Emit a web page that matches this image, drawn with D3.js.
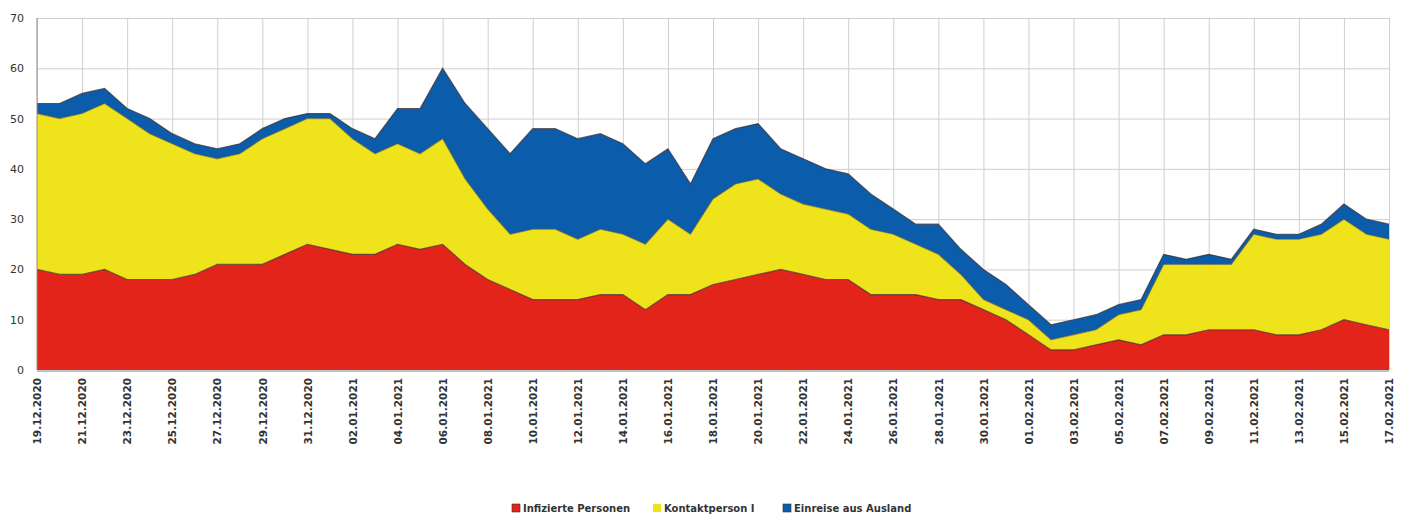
<!DOCTYPE html>
<html>
<head>
<meta charset="utf-8">
<script src="https://cdn.jsdelivr.net/npm/d3@7"></script>
<style>
  body { margin: 0; background: #fff; }
  svg { font-family: "DejaVu Sans", Verdana, sans-serif; }
</style>
</head>
<body>
<div id="chart"></div>
<script>
// dates 19.12.2020 .. 17.02.2021
var dates = [
  '19.12.2020','20.12.2020','21.12.2020','22.12.2020','23.12.2020','24.12.2020','25.12.2020',
  '26.12.2020','27.12.2020','28.12.2020','29.12.2020','30.12.2020','31.12.2020',
  '01.01.2021','02.01.2021','03.01.2021','04.01.2021','05.01.2021','06.01.2021','07.01.2021',
  '08.01.2021','09.01.2021','10.01.2021','11.01.2021','12.01.2021','13.01.2021','14.01.2021',
  '15.01.2021','16.01.2021','17.01.2021','18.01.2021','19.01.2021','20.01.2021','21.01.2021',
  '22.01.2021','23.01.2021','24.01.2021','25.01.2021','26.01.2021','27.01.2021','28.01.2021',
  '29.01.2021','30.01.2021','31.01.2021',
  '01.02.2021','02.02.2021','03.02.2021','04.02.2021','05.02.2021','06.02.2021','07.02.2021',
  '08.02.2021','09.02.2021','10.02.2021','11.02.2021','12.02.2021','13.02.2021','14.02.2021',
  '15.02.2021','16.02.2021','17.02.2021'
];

var infizierte = [20,19,19,20,18,18,18,19,21,21,21,23,25,24,23,23,25,24,25,21,
  18,16,14,14,14,15,15,12,15,15,17,18,19,20,19,18,18,15,15,15,
  14,14,12,10,7,4,4,5,6,5,7,7,8,8,8,7,7,8,10,9,8];

var kontakt = [31,31,32,33,32,29,27,24,21,22,25,25,25,26,23,20,20,19,21,17,
  14,11,14,14,12,13,12,13,15,12,17,19,19,15,14,14,13,13,12,10,
  9,5,2,2,3,2,3,3,5,7,14,14,13,13,19,19,19,19,20,18,18];

var einreise = [2,3,4,3,2,3,2,2,2,2,2,2,1,1,2,3,7,9,14,15,
  16,16,20,20,20,19,18,16,14,10,12,11,11,9,9,8,8,7,5,4,
  6,5,6,5,3,3,3,3,2,2,2,1,2,1,1,1,1,2,3,3,3];

var yTicks = [0,10,20,30,40,50,60,70];

var keys = ['infizierte', 'kontakt', 'einreise'];
var labels = {
  'infizierte': 'Infizierte Personen',
  'kontakt': 'Kontaktperson I',
  'einreise': 'Einreise aus Ausland'
};
var colors = {
  'infizierte': '#e3241b',
  'kontakt': '#efe31b',
  'einreise': '#0b5dab'
};

var rows = dates.map(function (d, i) {
  return { date: d, infizierte: infizierte[i], kontakt: kontakt[i], einreise: einreise[i] };
});

var width = 1407, height = 516;
var plotLeft = 37, plotRight = 1389, plotTop = 18, plotBottom = 370;

var svg = d3.select('#chart').append('svg')
  .attr('width', width)
  .attr('height', height);

var x = d3.scalePoint()
  .domain(dates)
  .range([plotLeft, plotRight]);

var y = d3.scaleLinear()
  .domain([0, 70])
  .range([plotBottom, plotTop]);

var every2 = dates.filter(function (d, i) { return i % 2 === 0; });

// grid
svg.append('g')
  .attr('transform', 'translate(0,' + plotBottom + ')')
  .call(d3.axisBottom(x).tickValues(every2).tickSize(-(plotBottom - plotTop)).tickFormat(''))
  .call(function (g) {
    g.select('.domain').remove();
    g.selectAll('line').attr('stroke', '#cfcfcf');
  });

svg.append('g')
  .attr('transform', 'translate(' + plotLeft + ',0)')
  .call(d3.axisLeft(y).tickValues(yTicks).tickSize(-(plotRight - plotLeft)).tickFormat(''))
  .call(function (g) {
    g.select('.domain').remove();
    g.selectAll('line').attr('stroke', '#cfcfcf');
  });

// stacked areas
var stack = d3.stack().keys(keys);
var series = stack(rows);

var area = d3.area()
  .x(function (d) { return x(d.data.date); })
  .y0(function (d) { return y(d[0]); })
  .y1(function (d) { return y(d[1]); });

var topLine = d3.line()
  .x(function (d) { return x(d.data.date); })
  .y(function (d) { return y(d[1]); });

svg.append('g').selectAll('path.area')
  .data(series)
  .enter().append('path')
  .attr('class', 'area')
  .attr('fill', function (s) { return colors[s.key]; })
  .attr('d', area);

svg.append('g').selectAll('path.edge')
  .data(series)
  .enter().append('path')
  .attr('class', 'edge')
  .attr('fill', 'none')
  .attr('stroke', function (s) { return s.key === 'kontakt' ? '#6b5a1a' : '#3a2a2a'; })
  .attr('stroke-opacity', function (s) { return s.key === 'kontakt' ? 0.5 : 0.7; })
  .attr('stroke-width', 1.2)
  .attr('d', topLine);

// axes
svg.append('line')
  .attr('x1', plotLeft).attr('x2', plotLeft)
  .attr('y1', plotTop).attr('y2', plotBottom)
  .attr('stroke', '#a08a7a');

svg.append('line')
  .attr('x1', plotLeft).attr('x2', plotRight)
  .attr('y1', plotBottom + 1).attr('y2', plotBottom + 1)
  .attr('stroke', '#b9c4c8')
  .attr('stroke-width', 2);

var yAxis = svg.append('g')
  .attr('transform', 'translate(' + (plotLeft - 10) + ',0)')
  .call(d3.axisLeft(y).tickValues(yTicks).tickSize(0));
yAxis.select('.domain').remove();
yAxis.selectAll('text')
  .attr('font-size', 11)
  .attr('font-family', '"DejaVu Sans", sans-serif')
  .attr('fill', '#333');

var xAxis = svg.append('g')
  .attr('transform', 'translate(0,' + (plotBottom + 8) + ')')
  .call(d3.axisBottom(x).tickValues(every2).tickSize(0));
xAxis.select('.domain').remove();
xAxis.selectAll('text')
  .attr('font-size', 10.5)
  .attr('font-weight', 'bold')
  .attr('font-family', '"DejaVu Sans", sans-serif')
  .attr('fill', '#333')
  .attr('text-anchor', 'end')
  .attr('transform', 'rotate(-90)')
  .attr('x', 0)
  .attr('y', 0)
  .attr('dx', 0)
  .attr('dy', '0.35em');

// legend
var legendPos = { 'infizierte': 512, 'kontakt': 653, 'einreise': 783 };
var legend = svg.append('g').selectAll('g')
  .data(keys)
  .enter().append('g')
  .attr('transform', function (k) { return 'translate(' + legendPos[k] + ',508)'; });

legend.append('rect')
  .attr('x', 0).attr('y', -4)
  .attr('width', 8).attr('height', 8)
  .attr('fill', function (k) { return colors[k]; })
  .attr('stroke', function (k) { return k === 'kontakt' ? 'none' : '#333'; })
  .attr('stroke-width', 0.6);

legend.append('text')
  .attr('x', 11)
  .attr('dy', '0.35em')
  .attr('font-size', 10)
  .attr('font-weight', 'bold')
  .attr('fill', '#333')
  .text(function (k) { return labels[k]; });
</script>
</body>
</html>
